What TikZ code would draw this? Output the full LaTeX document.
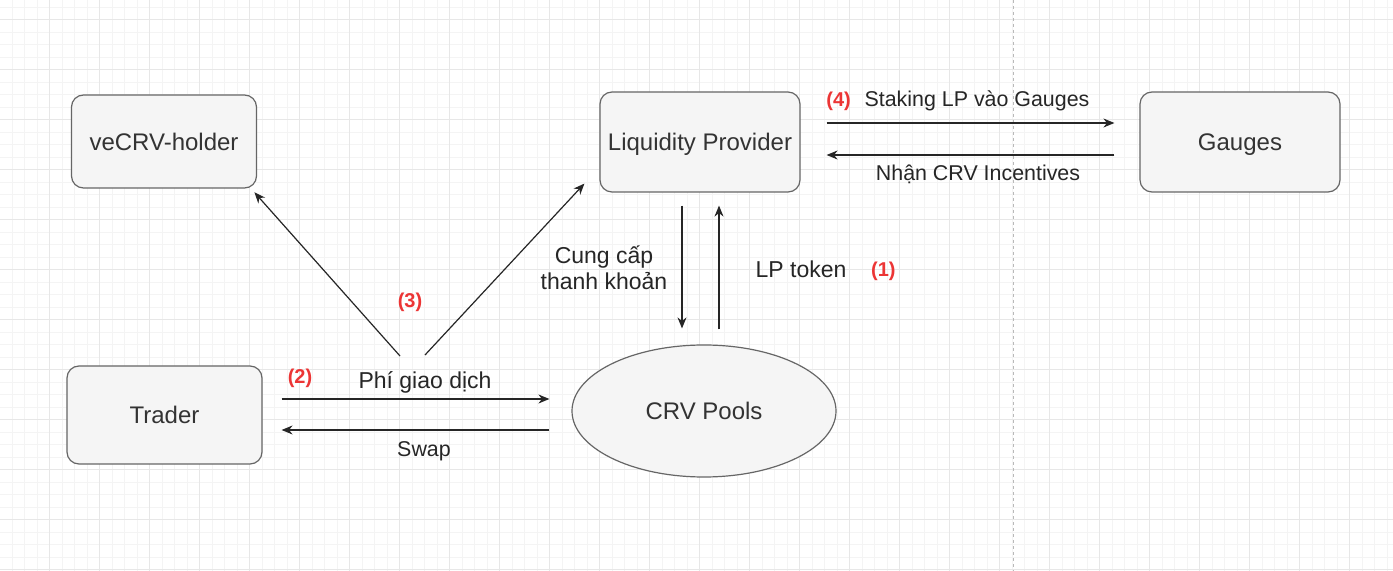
\documentclass[tikz,border=0pt]{standalone}
\usepackage{fontspec}
\setmainfont{Liberation Sans}
\usetikzlibrary{arrows.meta, positioning, shapes.geometric}

\definecolor{boxfill}{HTML}{F5F5F5}
\definecolor{boxline}{HTML}{666666}
\definecolor{boxtext}{HTML}{333333}
\definecolor{stepred}{HTML}{EC3535}
\definecolor{gridminor}{HTML}{F4F4F4}
\definecolor{gridmajor}{HTML}{E7E7E7}

\begin{document}
\begin{tikzpicture}[
  x=0.5pt, y=-0.5pt,
  actor/.style={draw=boxline, fill=boxfill, rounded corners=6pt, line width=0.6pt, minimum width=100pt, minimum height=50pt, inner sep=0pt, text height=8.6pt, text depth=0pt, text=boxtext, font=\fontsize{12}{14}\selectfont},
  pool/.style={ellipse, draw=boxline, fill=boxfill, line width=0.6pt, minimum width=132pt, minimum height=66pt, inner sep=0pt, text height=8.6pt, text depth=0pt, text=boxtext, font=\fontsize{12}{14}\selectfont},
  lbl/.style={inner sep=0pt, align=center, text=black!85, font=\fontsize{10.7}{13}\selectfont},
  biglbl/.style={lbl, font=\fontsize{11.5}{13}\selectfont},
  num/.style={inner sep=0pt, text height=7.5pt, text depth=0pt, text=stepred, font=\fontsize{10}{12}\selectfont\bfseries},
  flow/.style={-{Stealth[length=5.5pt, width=4.5pt]}, line width=0.6pt, draw=black!85},
]
\useasboundingbox (0,0) rectangle (1393,571);
% grid background
\fill[white] (0,0) rectangle (1393,571);
\foreach \gx in {12,24.5,...,1393} \draw[gridminor, line width=0.5pt] (\gx,0) -- (\gx,571);
\foreach \gy in {7.5,20,...,571} \draw[gridminor, line width=0.5pt] (0,\gy) -- (1393,\gy);
\foreach \gx in {49.5,99.5,...,1393} \draw[gridmajor, line width=0.5pt] (\gx,0) -- (\gx,571);
\foreach \gy in {20,70,...,571} \draw[gridmajor, line width=0.5pt] (0,\gy) -- (1393,\gy);
\draw[gridmajor!80!black, line width=0.5pt, dash pattern=on 1.5pt off 1.5pt] (1013,0) -- (1013,571);

\node[actor, minimum width=92.5pt, minimum height=46.5pt] (vecrv) at (164,141.5) {veCRV-holder};
\node[actor] (lp) at (700,142) {Liquidity Provider};
\node[actor] (gauges) at (1240,142) {Gauges};
\node[actor, minimum width=97.5pt, minimum height=49pt] (trader) at (164.5,415) {Trader};
\node[pool] (pools) at (704,411) {CRV Pools};
\coordinate (fee) at (412,356);

\draw[flow, shorten <=6.5pt, shorten >=8pt] ([xshift=-9pt]lp.south) -- ([xshift=-9pt]lp.south |- pools.north);
\draw[flow, shorten <=7.5pt, shorten >=6.5pt] ([xshift=9.5pt]lp.south |- pools.north) -- ([xshift=9.5pt]lp.south);
\draw[flow, shorten <=13pt, shorten >=12.5pt] ([yshift=9.5pt]lp.east) -- ([yshift=9.5pt]lp.east -| gauges.west);
\draw[flow, shorten <=12.5pt, shorten >=13pt] ([yshift=-6.5pt]lp.east -| gauges.west) -- ([yshift=-6.5pt]lp.east);
\draw[flow, shorten <=9.5pt, shorten >=11pt] ([yshift=8pt]trader.east) -- ([yshift=8pt]trader.east -| pools.west);
\draw[flow, shorten <=11pt, shorten >=9.5pt] ([yshift=-7.5pt]trader.east -| pools.west) -- ([yshift=-7.5pt]trader.east);
\draw[flow, shorten >=2.5pt] ([xshift=-6pt]fee) -- ([xshift=-3pt]vecrv.south east);
\draw[flow] ([xshift=6.5pt, yshift=0.5pt]fee) -- ([xshift=-7.5pt, yshift=4.5pt]lp.south west);

\node[biglbl] (supply) at (604,268) {Cung cấp\\thanh khoản};
\node[biglbl, text height=8.2pt, text depth=0pt] (lptok) at (801,269) {LP token};
\node[num, right=12pt of lptok] (n1) {(1)};
\node[num] (n3) at (410,300) {(3)};
\node[biglbl, text height=8.2pt, text depth=0pt] (feetxt) at (425,380.5) {Phí giao dịch};
\node[num] (n2) at (300,376) {(2)};
\node[lbl, text height=7.7pt, text depth=0pt] (swaptxt) at (424,449) {Swap};
\node[lbl, text height=7.7pt, text depth=0pt] (staking) at (977,99) {Staking LP vào Gauges};
\node[num, left=6.5pt of staking] (n4) {(4)};
\node[lbl, text height=7.7pt, text depth=0pt] (reward) at (978,173) {Nhận CRV Incentives};
\end{tikzpicture}
\end{document}
